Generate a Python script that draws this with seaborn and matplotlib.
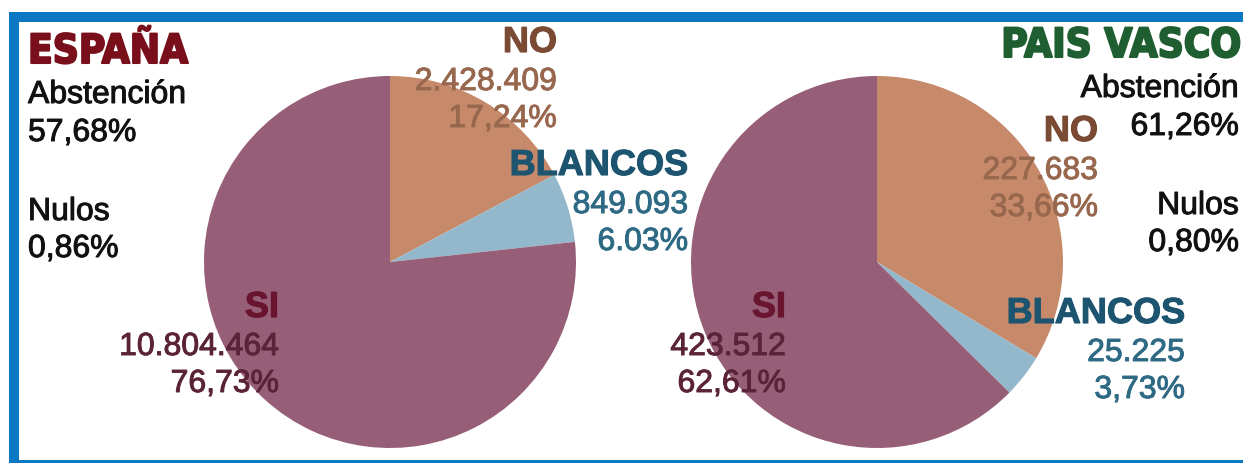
import matplotlib
matplotlib.use("Agg")
import matplotlib.pyplot as plt
from matplotlib.patches import Rectangle
from matplotlib import font_manager
import matplotlib.patheffects as pe
import seaborn as sns

# Datos del referendum
categorias = ["NO", "BLANCOS", "SI"]
espana_votos = [2428409, 849093, 10804464]
espana_pct = ["17,24%", "6.03%", "76,73%"]
vasco_votos = [227683, 25225, 423512]
vasco_pct = ["33,66%", "3,73%", "62,61%"]
espana_abstencion = "57,68%"
espana_nulos = "0,86%"
vasco_abstencion = "61,26%"
vasco_nulos = "0,80%"

# Colores
colores_sector = ["#c68a6b", "#94b8cb", "#965f77"]
colores_titulo = ["#7a4a33", "#1d5570", "#6a1530"]
colores_cifra = ["#98684e", "#2f6a85", "#5a2338"]
azul_marco = "#0a78c2"

sns.set_theme(style="white")
plt.rcParams["font.family"] = ["Liberation Sans", "DejaVu Sans"]

# fuente estrecha para los titulos, si existe
try:
    font_manager.findfont("Liberation Sans Narrow", fallback_to_default=False)
    fuente_titulo = dict(family=["Liberation Sans Narrow", "DejaVu Sans"], fontsize=32)
except Exception:
    fuente_titulo = dict(family=["DejaVu Sans"], fontstretch="condensed", fontsize=29)

W, H = 1243, 463
fig = plt.figure(figsize=(W / 100, H / 100), dpi=100)
fig.patch.set_facecolor("white")


def texto(x, y, s, grosor=0.7, **kw):
    # x, y en pixeles desde arriba a la izquierda, y = linea base
    t = fig.text(x / W, 1 - y / H, s, va="baseline", **kw)
    if grosor:
        t.set_path_effects([pe.withStroke(linewidth=grosor, foreground=kw.get("color", "black"))])
    return t


def caja(x0, y0, x1, y1, color):
    fig.add_artist(Rectangle((x0 / W, 1 - y1 / H), (x1 - x0) / W, (y1 - y0) / H,
                             transform=fig.transFigure, color=color, lw=0))


def tarta(cx, cy, r, votos):
    ax = fig.add_axes([(cx - r) / W, 1 - (cy + r) / H, 2 * r / W, 2 * r / H])
    ax.pie(votos, colors=colores_sector, startangle=90, counterclock=False,
           wedgeprops=dict(linewidth=0))
    ax.set_xlim(-1, 1)
    ax.set_ylim(-1, 1)
    ax.axis("off")


def miles(v):
    return f"{v:,}".replace(",", ".")


def bloque(x, y, i, votos, pct):
    texto(x, y, categorias[i], ha="right", fontsize=26, fontweight="bold",
          color=colores_titulo[i], grosor=0.8)
    texto(x, y + 38, miles(votos[i]), ha="right", fontsize=23, color=colores_cifra[i])
    texto(x, y + 75, pct[i], ha="right", fontsize=23, color=colores_cifra[i])


# marco azul
caja(9, 12, W, 22, azul_marco)
caja(9, 12, 19, H, azul_marco)
caja(9, 460, W, H, azul_marco)

tarta(390, 262, 186, espana_votos)
tarta(877, 262, 186, vasco_votos)

# España
texto(28, 63, "ESPAÑA", ha="left", fontweight="bold", color="#7a0f1c",
      grosor=1.5, **fuente_titulo)
texto(28, 103, "Abstención", ha="left", fontsize=23, color="#111111")
texto(28, 141, espana_abstencion, ha="left", fontsize=23, color="#111111")
texto(28, 220, "Nulos", ha="left", fontsize=23, color="#111111")
texto(28, 257, espana_nulos, ha="left", fontsize=23, color="#111111")
bloque(557, 52, 0, espana_votos, espana_pct)
bloque(688, 175, 1, espana_votos, espana_pct)
bloque(279, 317, 2, espana_votos, espana_pct)

# Pais Vasco
texto(1241, 57, "PAIS VASCO", ha="right", fontweight="bold", color="#1f5e30",
      grosor=1.5, **fuente_titulo)
texto(1239, 97, "Abstención", ha="right", fontsize=23, color="#111111")
texto(1239, 135, vasco_abstencion, ha="right", fontsize=23, color="#111111")
texto(1239, 214, "Nulos", ha="right", fontsize=23, color="#111111")
texto(1239, 251, vasco_nulos, ha="right", fontsize=23, color="#111111")
bloque(1098, 141, 0, vasco_votos, vasco_pct)
bloque(1185, 323, 1, vasco_votos, vasco_pct)
bloque(786, 317, 2, vasco_votos, vasco_pct)

fig.savefig("out.png", dpi=100)
